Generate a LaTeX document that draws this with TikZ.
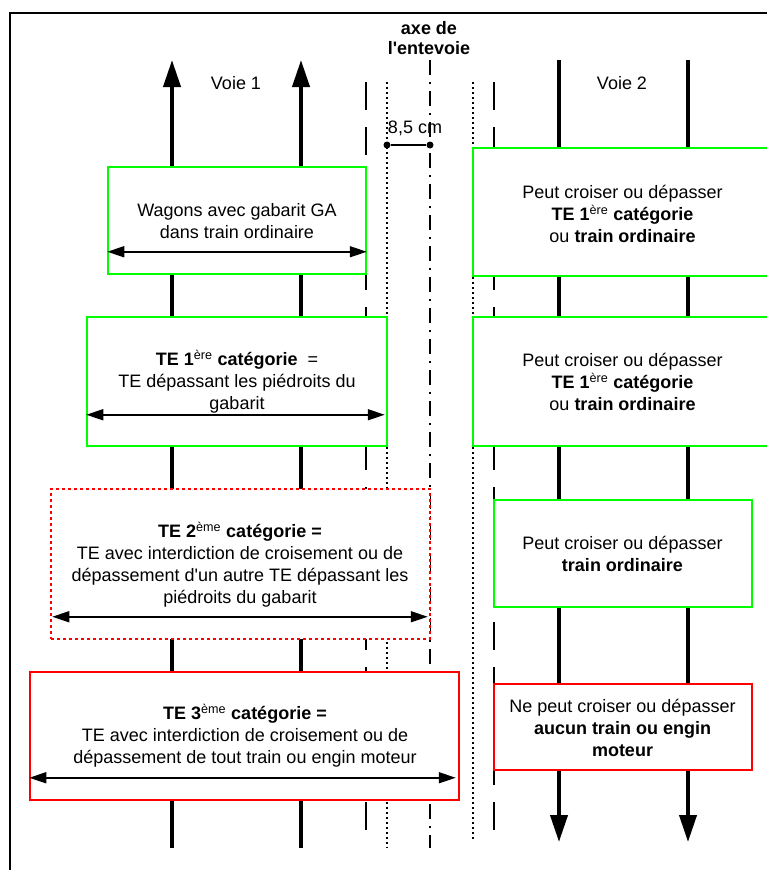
\documentclass[tikz,border=0pt]{standalone}
\usepackage{fontspec}
\newfontfamily\voieFont{Liberation Sans}
\usetikzlibrary{arrows.meta}

\begin{document}
\begin{tikzpicture}
[x=1pt,y=-1pt,%
  trackLine/.style={line width=4pt},%
  upTip/.style={-{Triangle[width=17pt,length=27pt]}},%
  dimArrow/.style={{Triangle[width=11pt,length=17pt]}-{Triangle[width=11pt,length=17pt]},line width=1.5pt},%
  guideDash/.style={line width=1.3pt,dash pattern=on 28pt off 17pt},%
  guideDot/.style={line width=1.3pt,dash pattern=on 2pt off 3pt},%
  guideAxis/.style={line width=1.3pt,dash pattern=on 15pt off 7pt on 2pt off 7pt},%
  boxGreen/.style={draw=green,fill=white,line width=1.5pt},%
  boxRed/.style={draw=red,fill=white,line width=1.5pt},%
  boxRedDotted/.style={boxRed,dash pattern=on 3pt off 3pt},%
  textDecorate/.style={align=center,inner sep=0pt},%
  dotNode/.style={circle,fill=black,inner sep=0pt,minimum size=7pt},%
  font={\voieFont\fontsize{18}{22}\selectfont}]
\useasboundingbox (0,0) rectangle (767,870);
\clip (0,0) rectangle (767,870);
%% frame
\draw[line width=2pt] (10,13) rectangle (900,900);
%% tracks
\foreach \x in {172,301}
  \draw[trackLine,upTip] (\x,848) -- (\x,60);
\foreach \x in {559,688}
  \draw[trackLine,upTip] (\x,60) -- (\x,842);
\node[textDecorate] (voieA) at (236,83) {Voie 1};
\node[textDecorate] (voieB) at (622,83) {Voie 2};
%% guide lines
\foreach \x/\ystart/\yend/\guide in {
  366/82/838/guideDash, 387/82/848/guideDot, 430/60/848/guideAxis,
  473/82/840/guideDot, 494/82/836/guideDash}
{
  \draw[\guide] (\x,\ystart) -- (\x,\yend);
}
\node[textDecorate,font={\voieFont\fontsize{18}{20}\selectfont\bfseries}] (axe) at (429,38) {axe de\\l'entevoie};
%% distance
\node[dotNode] (dimA) at (387,145) {};
\node[dotNode] (dimB) at (430,145) {};
\draw[line width=1.5pt] (dimA) -- (dimB);
\node[textDecorate] (dimText) at (415,128) {8,5 cm};
%% boxes voie 1
\node[boxGreen,minimum width=258,minimum height=107] (wagons) at (237,220.5) {};
\node[boxGreen,minimum width=300,minimum height=129] (teA) at (237,381.5) {};
\node[boxRedDotted,minimum width=379,minimum height=150] (teB) at (240.5,564) {};
\node[boxRed,minimum width=429,minimum height=128] (teC) at (244.5,736) {};
\node[textDecorate] (wagonsText) at (237,221) {Wagons avec gabarit GA\\dans train ordinaire};
\node[textDecorate] (teAText) at (237,382) {\textbf{TE 1\textsuperscript{\mdseries ère} catégorie}~~=\\TE dépassant les piédroits du\\gabarit};
\node[textDecorate] (teBText) at (240,565) {\textbf{TE 2\textsuperscript{\mdseries ème} catégorie =}\\TE avec interdiction de croisement ou de\\dépassement d'un autre TE dépassant les\\piédroits du gabarit};
\node[textDecorate] (teCText) at (245,736) {\textbf{TE 3\textsuperscript{\mdseries ème} catégorie =}\\TE avec interdiction de croisement ou de\\dépassement de tout train ou engin moteur};
%% widths
\draw[dimArrow] ([yshift=23pt]wagons.south west) -- ([yshift=23pt]wagons.south east);
\draw[dimArrow] ([yshift=32pt]teA.south west) -- ([yshift=32pt,xshift=-3pt]teA.south east);
\draw[dimArrow] ([yshift=23pt,xshift=2pt]teB.south west) -- ([yshift=23pt,xshift=-3pt]teB.south east);
\draw[dimArrow] ([yshift=23pt]teC.south west) -- ([yshift=23pt,xshift=-4pt]teC.south east);
%% boxes voie 2
\node[boxGreen,minimum width=312,minimum height=128] (croiseA) at (629,212) {};
\node[boxGreen,minimum width=312,minimum height=129] (croiseB) at (629,381.5) {};
\node[boxGreen,minimum width=258,minimum height=107] (croiseC) at (623,553.5) {};
\node[boxRed,minimum width=258,minimum height=86] (croiseD) at (623,727) {};
\node[textDecorate] (croiseAText) at (622.5,214) {Peut croiser ou dépasser\\\textbf{TE 1\textsuperscript{\mdseries ère} catégorie}\\ou \textbf{train ordinaire}};
\node[textDecorate] (croiseBText) at (622.5,382) {Peut croiser ou dépasser\\\textbf{TE 1\textsuperscript{\mdseries ère} catégorie}\\ou \textbf{train ordinaire}};
\node[textDecorate] (croiseCText) at (622.5,554) {Peut croiser ou dépasser\\\textbf{train ordinaire}};
\node[textDecorate] (croiseDText) at (622.5,728) {Ne peut croiser ou dépasser\\\textbf{aucun train ou engin}\\\textbf{moteur}};
\end{tikzpicture}
\end{document}
